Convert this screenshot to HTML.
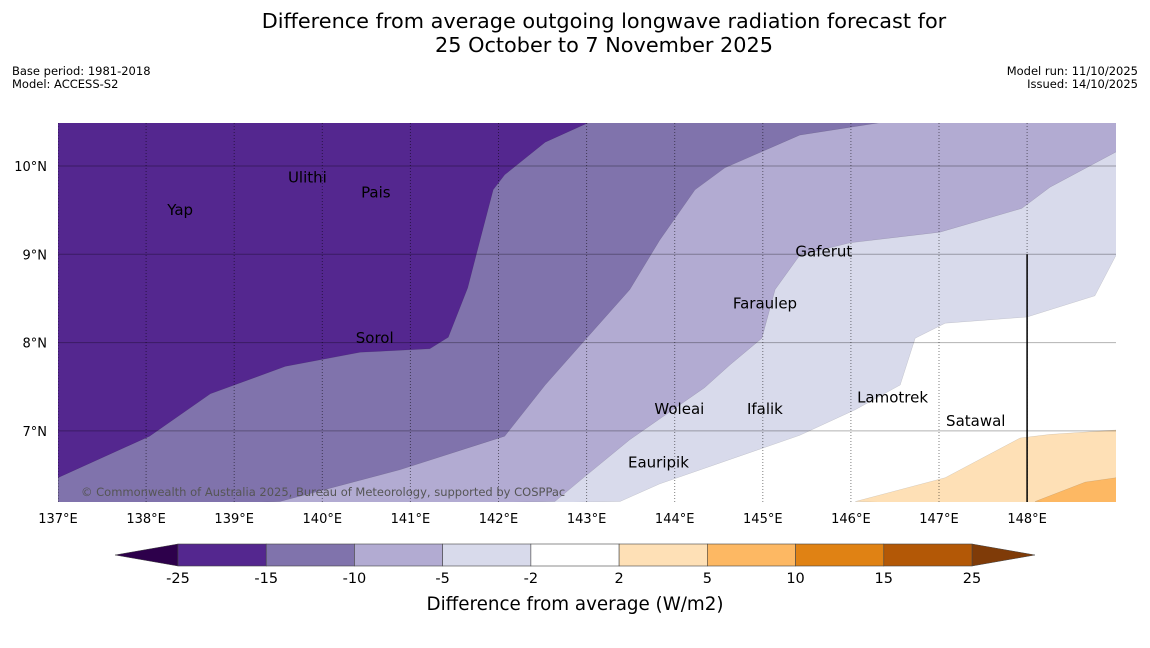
<!DOCTYPE html>
<html><head><meta charset="utf-8"><style>
body{margin:0;background:#fff;font-family:"DejaVu Sans","Liberation Sans",sans-serif;}
svg text{font-family:"DejaVu Sans","Liberation Sans",sans-serif;}
</style></head><body>
<svg id="c" width="1150" height="644" xmlns="http://www.w3.org/2000/svg">
<text x="604" y="28" font-size="20.8" text-anchor="middle">Difference from average outgoing longwave radiation forecast for</text>
<text x="604" y="52" font-size="20.8" text-anchor="middle">25 October to 7 November 2025</text>
<text x="12" y="75" font-size="11.5">Base period: 1981-2018</text>
<text x="12" y="88" font-size="11.5">Model: ACCESS-S2</text>
<text x="1138" y="75" font-size="11.5" text-anchor="end">Model run: 11/10/2025</text>
<text x="1138" y="88" font-size="11.5" text-anchor="end">Issued: 14/10/2025</text>
<defs><clipPath id="mc"><rect x="58" y="123" width="1058" height="379"/></clipPath></defs>
<g id="map" clip-path="url(#mc)"></g>
<g id="ax"></g>
<g id="cb"></g>
<text x="575" y="610" font-size="18.3" text-anchor="middle">Difference from average (W/m2)</text>
</svg>
<script>
const lonTicks=[137,138,139,140,141,142,143,144,145,146,147,148];
const latTicks=[7,8,9,10];
const levels=[-25,-15,-10,-5,-2,2,5,10,15,25];
const levelColors=["#54278f","#8073ac","#b2abd2","#d8daeb","#ffffff","#fee0b6","#fdb863","#e08214","#b35806"];
const b15=[[137,6.47],[138.04,6.94],[138.73,7.42],[139.58,7.73],[140.43,7.89],[141.22,7.93],[141.43,8.06],[141.65,8.62],[141.79,9.16],[141.94,9.73],[142.07,9.9],[142.53,10.27],[143.02,10.49]];
const b10=[[139.52,6.2],[140.88,6.56],[142.07,6.94],[142.53,7.52],[142.93,7.97],[143.49,8.6],[143.83,9.16],[144.23,9.73],[144.57,9.98],[145.42,10.35],[146.33,10.49]];
const b5=[[142.64,6.2],[142.93,6.44],[143.49,6.9],[144.34,7.49],[144.63,7.75],[144.99,8.05],[145.14,8.6],[145.42,8.99],[145.99,9.13],[147.01,9.25],[147.94,9.52],[148.26,9.76],[149.01,10.16]];
const b2=[[143.38,6.2],[143.83,6.4],[145.42,6.95],[146.05,7.24],[146.56,7.52],[146.73,8.05],[147.07,8.22],[148,8.29],[148.77,8.53],[149.01,8.99]];
const o2=[[146.05,6.2],[147.07,6.47],[147.92,6.92],[148.26,6.96],[149.01,7.01]];
const o5=[[148.09,6.2],[148.66,6.42],[149.01,6.47]];
const places=[["Yap",138.24,9.5],["Ulithi",139.61,9.87],["Pais",140.44,9.7],["Gaferut",145.37,9.03],["Faraulep",144.66,8.44],["Sorol",140.38,8.05],["Lamotrek",146.07,7.38],["Woleai",143.77,7.25],["Ifalik",144.82,7.25],["Satawal",147.08,7.11],["Eauripik",143.47,6.64]];
const NS="http://www.w3.org/2000/svg";
const X=lon=>58+(lon-137)*88.1, Y=lat=>166-(lat-10)*88.3;
function mk(t,a,p){const e=document.createElementNS(NS,t);for(const k in a)e.setAttribute(k,a[k]);p.appendChild(e);return e;}
const map=document.getElementById('map');
const pts=a=>a.map(p=>X(p[0]).toFixed(1)+','+Y(p[1]).toFixed(1)).join(' ');
const TL=[137,10.6],TR=[149.1,10.6],BL=[137,6.1],BR=[149.1,6.1];
let r=mk('rect',{x:58,y:123,width:1058,height:379,fill:'#fff'},map);

const regs=[[[BL,...b2,[149.1,8.99],TR,TL],3,'region-minus5-minus2'],[[BL,...b5,TR,TL],2,'region-minus10-minus5'],[[BL,...b10,TL],1,'region-minus15-minus10'],[[[137,6.1],...b15,TL],0,'region-minus25-minus15'],[[...o2,BR],5,'region-2-5'],[[...o5,BR],6,'region-5-10']];
regs.forEach(g=>{const e=mk('polygon',{points:pts(g[0]),fill:levelColors[g[1]],stroke:'#000','stroke-width':0.2,'stroke-opacity':0.4},map);

});
latTicks.forEach(v=>{const e=mk('line',{x1:58,x2:1116,y1:Y(v),y2:Y(v),stroke:'#000','stroke-opacity':0.3,'stroke-width':1},map);

});
lonTicks.forEach(v=>{const e=mk('line',{x1:X(v),x2:X(v),y1:123,y2:502,stroke:'#000','stroke-opacity':0.5,'stroke-dasharray':'1,2','stroke-width':1},map);

});
let vl=mk('line',{x1:X(148),x2:X(148),y1:Y(9),y2:502,stroke:'#000','stroke-width':1.5},map);


places.forEach(p=>{const t=mk('text',{x:X(p[1]),y:Y(p[2])+5,'font-size':15},map);t.textContent=p[0];

});
let cp=mk('text',{x:81,y:496,'font-size':11.5,fill:'#555'},map);cp.textContent='© Commonwealth of Australia 2025, Bureau of Meteorology, supported by COSPPac';


const ax=document.getElementById('ax');
lonTicks.forEach(v=>{const t=mk('text',{x:X(v),y:523,'font-size':13,'text-anchor':'middle'},ax);t.textContent=v+'°E';

});
latTicks.forEach(v=>{const t=mk('text',{x:47,y:Y(v)+5,'font-size':13,'text-anchor':'end'},ax);t.textContent=v+'°N';

});
const cb=document.getElementById('cb');const w=(972-178)/9;
let t1=mk('polygon',{points:'115,555 178,544 178,566',fill:'#2d004b',stroke:'#444','stroke-width':0.5},cb);


let t2=mk('polygon',{points:'1035,555 972,544 972,566',fill:'#7f3b08',stroke:'#444','stroke-width':0.5},cb);


levelColors.forEach((c,i)=>{const e=mk('rect',{x:178+i*w,y:544,width:w,height:22,fill:c,stroke:'#444','stroke-width':0.6},cb);

});
levels.forEach((v,i)=>{const t=mk('text',{x:178+i*w,y:583,'font-size':14.5,'text-anchor':'middle'},cb);t.textContent=v;

});
</script>
</body></html>
